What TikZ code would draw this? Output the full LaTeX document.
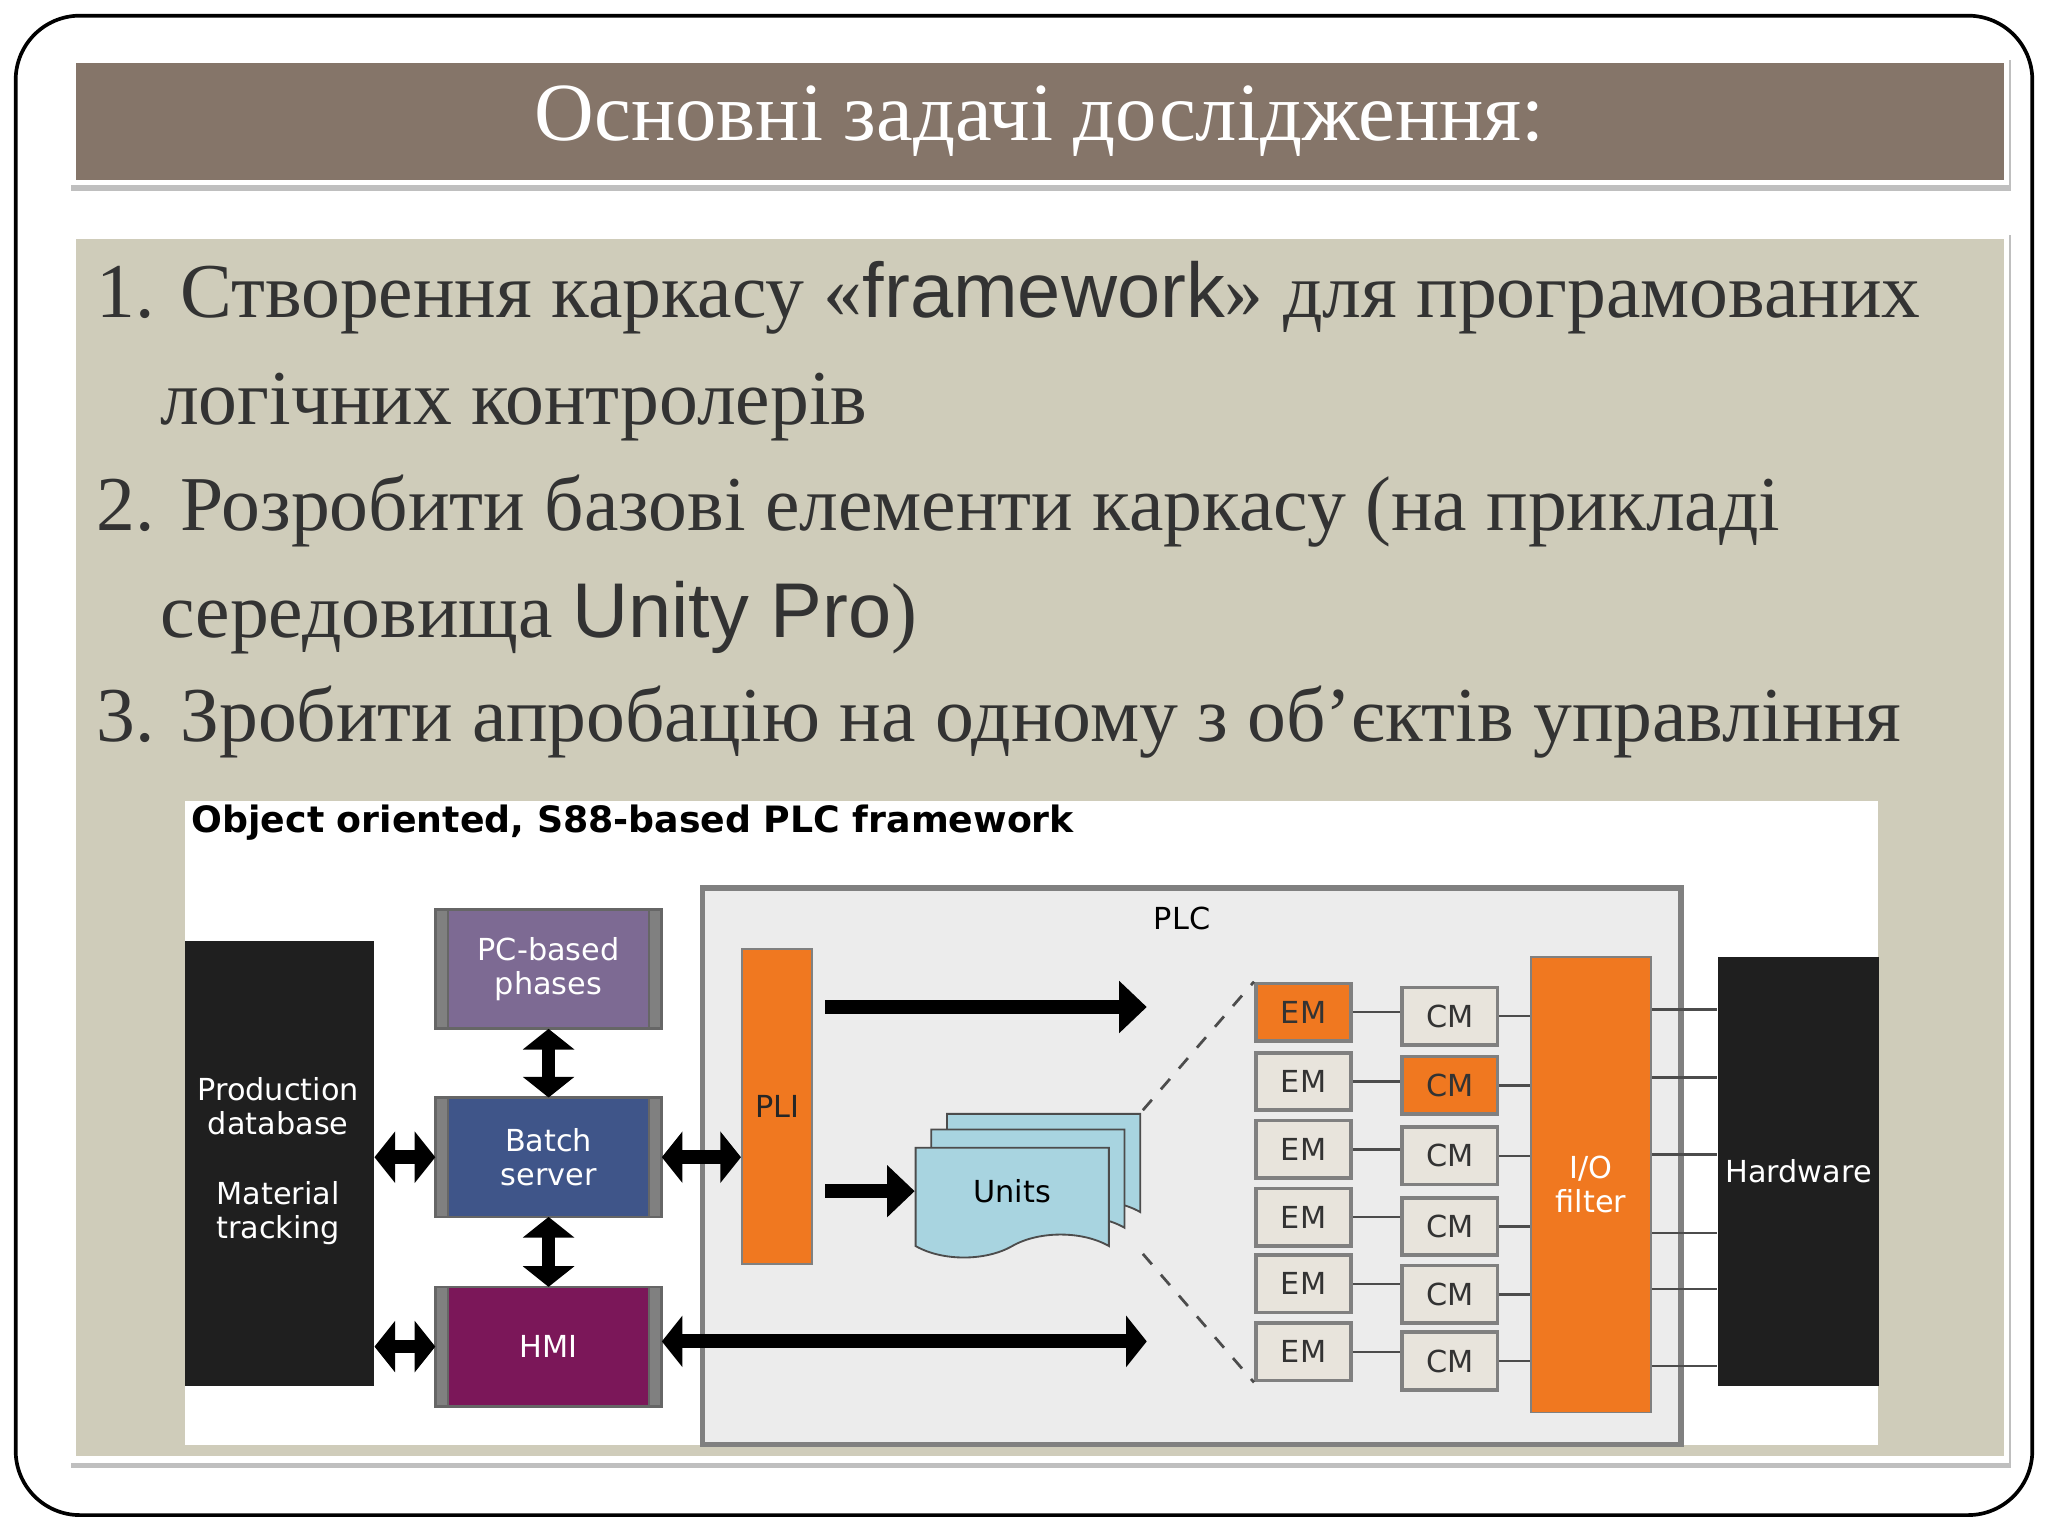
\documentclass[tikz,border=0pt]{standalone}
\usepackage{fontspec}
\setmainfont{Liberation Serif}
\setsansfont{DejaVu Sans}
\newfontfamily\arialf{Liberation Sans}
\usetikzlibrary{arrows.meta,shapes.symbols}
\definecolor{titlebg}{RGB}{133,117,105}
\definecolor{panel}{RGB}{207,204,186}
\definecolor{org}{RGB}{240,120,32}
\definecolor{pcp}{RGB}{125,106,147}
\definecolor{bat}{RGB}{63,85,137}
\definecolor{hmi}{RGB}{123,23,89}
\definecolor{unit}{RGB}{168,212,224}
\definecolor{plcbg}{RGB}{236,236,236}
\definecolor{light}{RGB}{232,228,220}
\tikzset{
 x=0.01cm,y=-0.01cm,
 mtext/.style={anchor=base west,font=\fontsize{16.9}{20}\selectfont,text=black!80,inner sep=0},
 dtext/.style={font=\sffamily\fontsize{6.6}{7.5}\selectfont,text=white,align=center},
 blk/.style={fill=black!88,draw=none,inner sep=0},
 sbox/.style={draw=none,inner sep=0,dtext,minimum width=172*0.01cm,minimum height=90*0.01cm,
   append after command={\pgfextra{\let\mynode\tikzlastnode}
   (\mynode.north west) edge[draw=none] (\mynode.south west)}},
 sidebar/.style={fill=gray,draw=black!60,line width=0.4pt},
 em/.style={draw=gray,fill=light,line width=0.8pt,minimum width=73*0.01cm,minimum height=44*0.01cm,font=\sffamily\fontsize{6.6}{7.5}\selectfont,text=black!80,inner sep=0},
 emo/.style={em,fill=org},
 darr/.style={line width=3pt,{Triangle[length=4.5pt,width=11pt]}-{Triangle[length=4.5pt,width=11pt]}},
 sarr/.style={line width=3pt,-{Triangle[length=6pt,width=11pt]}},
 thin/.style={draw=black!70,line width=0.5pt},
}
\begin{document}
\begin{tikzpicture}
\useasboundingbox (0,0) rectangle (1568,1176);
\fill[white] (0,0) rectangle (1568,1176);
\draw[black,line width=0.8pt,rounded corners=14pt] (12,12) rectangle (1556,1160);
% title
\fill[black!25] (54,46) rectangle (1540,146);
\fill[white] (52,42) rectangle (1538,142);
\fill[titlebg] (58,48) rectangle (1534,138);
\node[text=white,font=\fontsize{18}{20}\selectfont] (title) at (796,93) {Основні задачі дослідження:};
% panel
\fill[black!25] (54,180) rectangle (1540,1124);
\fill[white] (52,177) rectangle (1538,1120);
\fill[panel] (58,183) rectangle (1534,1115);
\node[mtext] (l1) at (73,243) {1. Створення каркасу «{\arialf framework}» для програмованих};
\node[mtext] (l2) at (122,325) {логічних контролерів};
\node[mtext] (l3) at (73,406) {2. Розробити базові елементи каркасу (на прикладі};
\node[mtext] (l4) at (122,488) {середовища {\arialf Unity Pro})};
\node[mtext] (l5) at (73,568) {3. Зробити апробацію на одному з об’єктів управління};
% diagram
\fill[white] (142,613) rectangle (1438,1106);
\node[anchor=west,font=\sffamily\bfseries\fontsize{7.9}{9}\selectfont,inner sep=0] (dt) at (146,630) {Object oriented, S88-based PLC framework};
\draw[gray,fill=plcbg,line width=1.2pt] (538,680) rectangle (1287,1106);
\node[font=\sffamily\fontsize{6.6}{7.5}\selectfont] (plc) at (905,703) {PLC};
\node[blk,minimum width=144*0.01cm,minimum height=341*0.01cm] (prod) at (214,891) {};
\node[dtext] at (213,847) {Production\\database};
\node[dtext] at (213,929) {Material\\tracking};
\node[sbox,fill=pcp] (pc) at (420,742) {PC-based\\phases};
\node[sbox,fill=bat] (bs) at (420,886) {Batch\\server};
\node[sbox,fill=hmi] (hm) at (420,1031) {HMI};
\foreach \n in {pc,bs,hm}{
 \draw[sidebar] (\n.north west) rectangle ([xshift=10*0.01cm]\n.south west);
 \draw[sidebar] (\n.north east) rectangle ([xshift=-10*0.01cm]\n.south east);
 \draw[black!60,line width=0.6pt] (\n.north west) rectangle (\n.south east);}
\node[fill=org,draw=black!50,minimum width=54*0.01cm,minimum height=241*0.01cm,dtext,text=black!85,inner sep=0] (pli) at (595,847) {PLI};
\draw[darr] (pc.south) -- (bs.north);
\draw[darr] (bs.south) -- (hm.north);
\draw[darr] (prod.east|-bs) -- (bs.west);
\draw[darr] (prod.east|-hm) -- (hm.west);
\draw[darr] (bs.east) -- (pli.west|-bs);
\coordinate (he) at (878,1027);
\draw[darr] (hm.east|-he) -- (he);
\coordinate (a1s) at (632,771); \coordinate (a1e) at (878,771);
\draw[sarr] (a1s) -- (a1e);
% units
\foreach \d in {24,12}{\node[tape,tape bend top=none,draw=black!70,fill=unit,minimum width=148*0.01cm,minimum height=84*0.01cm] at (775+\d,910-\d) {};}
\node[tape,tape bend top=none,draw=black!70,fill=unit,minimum width=148*0.01cm,minimum height=84*0.01cm,font=\sffamily\fontsize{6.6}{7.5}\selectfont] (un) at (775,912) {Units};
\coordinate (a2s) at (632,912);
\draw[sarr] (a2s) -- (un.west);
% EM / CM
\foreach \i/\y/\s in {1/775/emo,2/828/em,3/880/em,4/932/em,5/983/em,6/1035/em}{
 \node[\s] (em\i) at (998,\y) {EM};}
\foreach \i/\y/\s in {1/778/em,2/831/emo,3/885/em,4/939/em,5/991/em,6/1042/em}{
 \node[\s] (cm\i) at (1110,\y) {CM};}
\node[fill=org,draw=black!50,minimum width=92*0.01cm,minimum height=349*0.01cm,dtext,inner sep=0] (io) at (1218,907) {I/O\\filter};
\node[blk,minimum width=123*0.01cm,minimum height=329*0.01cm,dtext] (hw) at (1377,897) {Hardware};
\foreach \i in {1,...,6}{
 \draw[thin] (em\i.east) -- (cm\i.west|-em\i);
 \draw[thin] (cm\i.east) -- (io.west|-cm\i);}
\foreach \y in {773,825,884,944,987,1046}{\draw[thin] (io.east|-0,\y) -- (hw.west|-0,\y);}
\coordinate (dtop) at (875,850); \coordinate (dbot) at (875,960);
\draw[dashed,black!70,line width=0.6pt] (dtop) -- (em1.north west);
\draw[dashed,black!70,line width=0.6pt] (dbot) -- (em6.south west);
\end{tikzpicture}
\end{document}
